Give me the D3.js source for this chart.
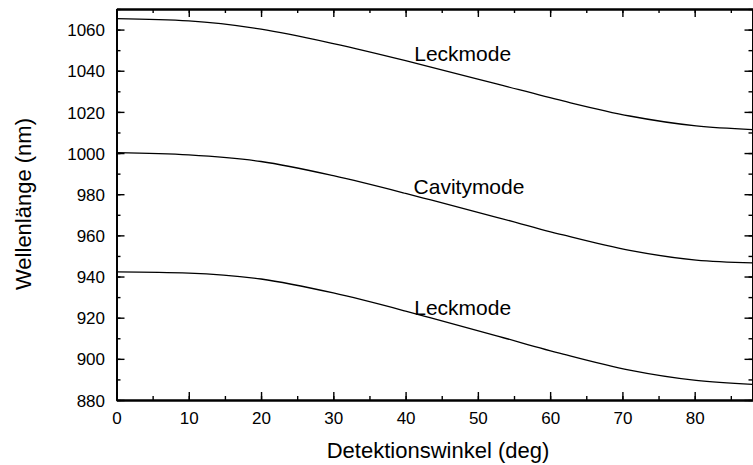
<!DOCTYPE html>
<html>
<head>
<meta charset="UTF-8">
<title>Wellenlänge vs Detektionswinkel</title>
<script src="https://d3js.org/d3.v7.min.js"></script>
<style>
  body { margin: 0; background: #fff; }
  svg { display: block; font-family: "Liberation Sans", Arial, Helvetica, sans-serif; }
  .frame line, .frame path { stroke: #000; }
  .tick text { font-size: 17px; fill: #000; font-family: "Liberation Sans", Arial, Helvetica, sans-serif; }
</style>
</head>
<body>
<svg width="753" height="465"></svg>
<script>
// angles (deg)
var angles = [0, 10, 20, 30, 40, 43.5, 52.6, 61.8, 71, 80.2, 88];
// wavelength of each mode (nm)
var leckOben  = [1065.3, 1064.2, 1060.2, 1053.2, 1044.9, 1041.8, 1033.6, 1025.3, 1018, 1013.2, 1011.4];
var cavity    = [1000.2, 999.1, 995.9, 989, 980.4, 977.2, 968.8, 960.2, 952.7, 948, 946.6];
var leckUnten = [942.3, 941.7, 938.8, 932, 923.2, 919.9, 911.2, 902.3, 894.5, 889.5, 887.6];
var modeNames = ["Leckmode", "Cavitymode", "Leckmode"];
// where the labels sit, in data units
var labelX = [41.2, 41.1, 41.2];
var labelY = [1044.8, 980.1, 921.3];

var xTicks = d3.range(0, 81, 10), xMinor = d3.range(0, 89, 5);
var yTicks = d3.range(880, 1061, 20), yMinor = d3.range(880, 1071, 10);

var svg = d3.select("svg");
var mLeft = 116.5, mRight = 752.5, mTop = 9, mBottom = 400;

var x = d3.scaleLinear().domain([0, 88]).range([mLeft, mRight]);
var y = d3.scaleLinear().domain([880, 1070]).range([mBottom, mTop]);

// frame with inward ticks on all four sides
function side(axis, tx, ty, vals, len, labels) {
  var g = svg.append("g").attr("class", "frame")
    .attr("transform", "translate(" + tx + "," + ty + ")")
    .call(axis.tickValues(vals).tickSizeInner(len).tickSizeOuter(0).tickPadding(0)
      .tickFormat(labels ? d3.format("d") : ""));
  g.select(".domain").attr("stroke-width", 1.8);
  g.selectAll(".tick line").attr("stroke-width", 1.4);
  return g;
}
// minor
side(d3.axisBottom(x), 0, mBottom, xMinor, -4, false);
side(d3.axisTop(x), 0, mTop, xMinor, -4, false);
side(d3.axisLeft(y), mLeft, 0, yMinor, -4, false);
side(d3.axisRight(y), mRight, 0, yMinor, -4, false);
// major
var xb = side(d3.axisBottom(x), 0, mBottom, xTicks, -8, true);
xb.selectAll(".tick text").attr("y", 24).attr("dy", 0);
side(d3.axisTop(x), 0, mTop, xTicks, -8, false);
var yl = side(d3.axisLeft(y), mLeft, 0, yTicks, -8, true);
yl.selectAll(".tick text").attr("x", -11.5).attr("dy", "0.36em");
side(d3.axisRight(y), mRight, 0, yTicks, -8, false);

var line = d3.line()
  .x(function (d) { return x(d[0]); })
  .y(function (d) { return y(d[1]); })
  .curve(d3.curveMonotoneX);

[leckOben, cavity, leckUnten].forEach(function (vals, i) {
  svg.append("path")
    .datum(angles.map(function (a, j) { return [a, vals[j]]; }))
    .attr("fill", "none")
    .attr("stroke", "#000")
    .attr("stroke-width", 1.3)
    .attr("d", line);
  svg.append("text")
    .attr("x", x(labelX[i]))
    .attr("y", y(labelY[i]))
    .attr("font-size", 21)
    .text(modeNames[i]);
});

svg.append("text")
  .attr("x", 438).attr("y", 458)
  .attr("text-anchor", "middle")
  .attr("font-size", 22)
  .text("Detektionswinkel (deg)");

svg.append("text")
  .attr("transform", "translate(31,204) rotate(-90)")
  .attr("text-anchor", "middle")
  .attr("font-size", 22)
  .text("Wellenlänge (nm)");
</script>
</body>
</html>
